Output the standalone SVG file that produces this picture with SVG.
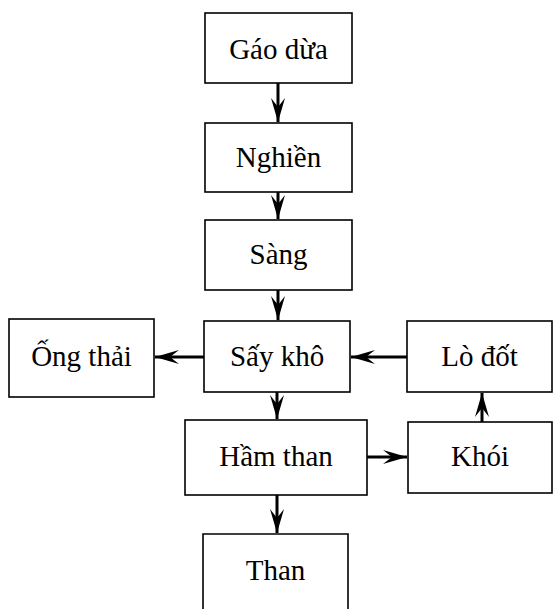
<svg xmlns="http://www.w3.org/2000/svg" width="553" height="609" viewBox="0 0 553 609">
<style>
.box{fill:#fff;stroke:#000;stroke-width:1.6}
.lbl{font-family:"Liberation Serif","Times New Roman",serif;font-size:29px;fill:#000;text-anchor:middle}
.con{stroke:#000;stroke-width:3;fill:none}
</style>
<defs>
<marker id="ah" markerUnits="userSpaceOnUse" viewBox="0 -8 24 16" refX="24" refY="0" markerWidth="24" markerHeight="16" orient="auto">
<path d="M0,-7 L24,0 L0,7 L9,0 z" fill="#000"/>
</marker>
</defs>
<rect width="553" height="609" fill="#fff"/>
<g id="connectors">
<line class="con" x1="278" y1="83" x2="278" y2="122" marker-end="url(#ah)"/>
<line class="con" x1="278" y1="192" x2="278" y2="219" marker-end="url(#ah)"/>
<line class="con" x1="278" y1="290" x2="278" y2="320" marker-end="url(#ah)"/>
<line class="con" x1="204" y1="357" x2="155" y2="357" marker-end="url(#ah)"/>
<line class="con" x1="407" y1="357" x2="351" y2="357" marker-end="url(#ah)"/>
<line class="con" x1="277" y1="392" x2="277" y2="419" marker-end="url(#ah)"/>
<line class="con" x1="367" y1="457" x2="407" y2="457" marker-end="url(#ah)"/>
<line class="con" x1="482" y1="422" x2="482" y2="393" marker-end="url(#ah)"/>
<line class="con" x1="277" y1="495" x2="277" y2="533" marker-end="url(#ah)"/>
</g>
<g id="gao-dua"><rect class="box" x="205" y="13" width="147" height="70"/><text class="lbl" x="278.5" y="59">Gáo dừa</text></g>
<g id="nghien"><rect class="box" x="205" y="123" width="147" height="69"/><text class="lbl" x="278.5" y="167">Nghiền</text></g>
<g id="sang"><rect class="box" x="205" y="220" width="147" height="70"/><text class="lbl" x="278.5" y="264">Sàng</text></g>
<g id="say-kho"><rect class="box" x="204" y="321" width="146" height="71"/><text class="lbl" x="277" y="366">Sấy khô</text></g>
<g id="ong-thai"><rect class="box" x="9" y="319" width="145" height="78"/><text class="lbl" x="81.5" y="366">Ống thải</text></g>
<g id="lo-dot"><rect class="box" x="407" y="321" width="145" height="71"/><text class="lbl" x="479.5" y="366">Lò đốt</text></g>
<g id="ham-than"><rect class="box" x="185" y="420" width="182" height="75"/><text class="lbl" x="276" y="466">Hầm than</text></g>
<g id="khoi"><rect class="box" x="408" y="422" width="144" height="71"/><text class="lbl" x="480" y="466">Khói</text></g>
<g id="than"><path class="box" d="M203,609 L203,534 L348,534 L348,609"/><text class="lbl" x="275.5" y="580">Than</text></g>
</svg>
